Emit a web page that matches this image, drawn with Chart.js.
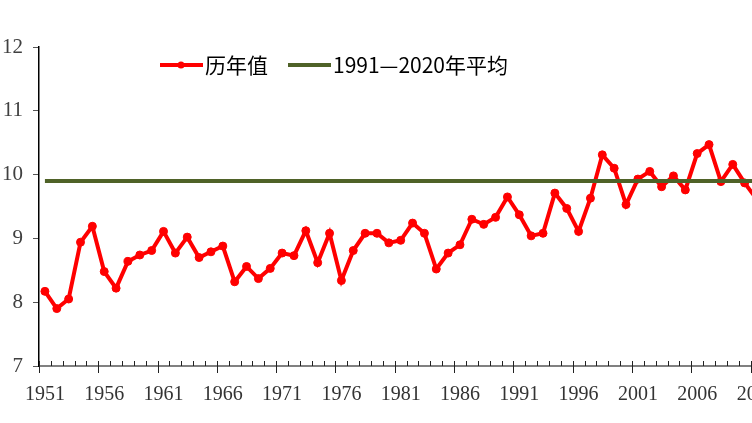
<!DOCTYPE html>
<html>
<head>
<meta charset="utf-8">
<script src="https://cdn.jsdelivr.net/npm/chart.js@4.4.0/dist/chart.umd.min.js"></script>
<style>
html,body{margin:0;padding:0;background:#fff;overflow:hidden}
#wrap{width:752px;height:423px;overflow:hidden}
canvas{display:block}
</style>
</head>
<body>
<div id="wrap"><canvas id="c" width="800" height="423"></canvas></div>
<script>

// years 1951-2011 (the chart continues past the right edge of the picture)
let years=[]
for(let y=1951;y<=2011;y++) years.push(String(y))

let annualValues=[
8.17,7.90,8.05,8.94,9.19,8.48,8.22,8.64,8.74,8.81,
9.11,8.77,9.02,8.70,8.79,8.88,8.32,8.56,8.37,8.53,
8.77,8.73,9.12,8.62,9.08,8.34,8.81,9.08,9.08,8.93,
8.97,9.24,9.08,8.52,8.77,8.90,9.30,9.22,9.33,9.65,
9.37,9.04,9.08,9.71,9.47,9.11,9.63,10.31,10.10,9.53,
9.93,10.05,9.81,9.98,9.76,10.33,10.47,9.89,10.16,9.87,
9.62
]

let normalValue=9.9
let normalLine=years.map(()=>normalValue)

let yTicks=[7,8,9,10,11,12]

// minor ticks inside, major ticks (every 5 years) crossing the axis
const xTickMarks={
id:"xTickMarks",
afterDraw(chart){
let ctx=chart.ctx
let sc=chart.scales.x
let step=sc.getPixelForValue(1)-sc.getPixelForValue(0)
let y0=chart.chartArea.bottom
ctx.save()
ctx.strokeStyle="#222"
ctx.lineWidth=1
for(let i=0;i<=years.length;i++){
let x=Math.round(sc.getPixelForValue(i)-step/2)+0.5
ctx.beginPath()
if(i%5===0){
ctx.moveTo(x,y0-5)
ctx.lineTo(x,y0+7)
}else{
ctx.moveTo(x,y0-5)
ctx.lineTo(x,y0)
}
ctx.stroke()
}
ctx.restore()
}
}

// legend placed inside the plot, like the original
const innerLegend={
id:"innerLegend",
afterDraw(chart){
let ctx=chart.ctx
let items=[{ds:chart.data.datasets[0],x:160},{ds:chart.data.datasets[1],x:288}]
let y=65
ctx.save()
ctx.font="21px 'Noto Sans CJK SC'"
ctx.textBaseline="middle"
items.forEach(it=>{
ctx.strokeStyle=it.ds.borderColor
ctx.lineWidth=4
ctx.beginPath()
ctx.moveTo(it.x,y)
ctx.lineTo(it.x+43,y)
ctx.stroke()
if(it.ds.pointRadius>0){
ctx.fillStyle=it.ds.borderColor
ctx.beginPath()
ctx.arc(it.x+21,y,3.5,0,Math.PI*2)
ctx.fill()
}
ctx.fillStyle="#000"
ctx.fillText(it.ds.label,it.x+45,y)
})
ctx.restore()
}
}

new Chart(document.getElementById("c"),{
type:"line",
data:{
labels:years,
datasets:[
{
label:"历年值",
data:annualValues,
borderColor:"#FF0000",
backgroundColor:"#FF0000",
borderWidth:4,
pointRadius:4,
pointBorderWidth:1,
tension:0,
order:2
},
{
label:"1991—2020年平均",
data:normalLine,
borderColor:"#4F6228",
borderWidth:4,
pointRadius:0,
tension:0,
order:1
}
]
},
options:{
responsive:false,
animation:false,
layout:{padding:{top:47,right:37.6,left:0,bottom:0}},
plugins:{legend:{display:false},tooltip:{enabled:false}},
scales:{
x:{
type:"category",
offset:true,
grid:{display:false},
border:{display:true,color:"#808080",width:2},
afterFit(scale){scale.height=57},
ticks:{
autoSkip:false,
maxRotation:0,
padding:9,
color:"#333",
font:{family:"'Liberation Serif'",size:20},
callback:function(v,i){return i%5===0?years[i]:""}
}
},
y:{
min:yTicks[0],
max:yTicks[yTicks.length-1],
afterFit(scale){scale.width=39},
afterBuildTicks(scale){scale.ticks=yTicks.map(v=>({value:v}))},
grid:{drawOnChartArea:false,drawTicks:true,tickLength:6,color:"#555"},
border:{display:true,color:"#000",width:1.5},
ticks:{
padding:10,
color:"#404040",
font:{family:"'Liberation Serif'",size:21}
}
}
}
},
plugins:[xTickMarks,innerLegend]
})

</script>
</body>
</html>
